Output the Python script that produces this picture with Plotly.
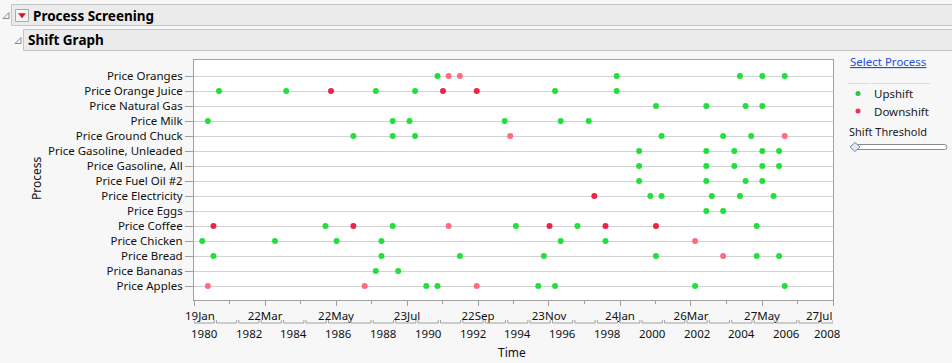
import pandas as pd
import plotly.graph_objects as go

# ---------------- data ----------------
processes = [
    "Price Oranges", "Price Orange Juice", "Price Natural Gas", "Price Milk",
    "Price Ground Chuck", "Price Gasoline, Unleaded", "Price Gasoline, All",
    "Price Fuel Oil #2", "Price Electricity", "Price Eggs", "Price Coffee",
    "Price Chicken", "Price Bread", "Price Bananas", "Price Apples",
]

upshift_process = (
    ["Price Oranges"] * 5
    + ["Price Orange Juice"] * 6
    + ["Price Natural Gas"] * 4
    + ["Price Milk"] * 6
    + ["Price Ground Chuck"] * 6
    + ["Price Gasoline, Unleaded"] * 5
    + ["Price Gasoline, All"] * 5
    + ["Price Fuel Oil #2"] * 4
    + ["Price Electricity"] * 5
    + ["Price Eggs"] * 2
    + ["Price Coffee"] * 5
    + ["Price Chicken"] * 6
    + ["Price Bread"] * 7
    + ["Price Bananas"] * 2
    + ["Price Apples"] * 6
)
upshift_month = [
    "1990-12", "1998-12", "2004-06", "2005-06", "2006-06",                       # Oranges
    "1981-03", "1984-03", "1988-03", "1989-12", "1996-03", "1998-12",            # Orange Juice
    "2000-09", "2002-12", "2004-09", "2005-06",                                  # Natural Gas
    "1980-09", "1988-12", "1989-09", "1993-12", "1996-06", "1997-09",            # Milk
    "1987-03", "1988-12", "1989-12", "2000-12", "2003-09", "2004-12",            # Ground Chuck
    "1999-12", "2002-12", "2004-03", "2005-06", "2006-03",                       # Gasoline, Unleaded
    "1999-12", "2002-12", "2004-03", "2005-06", "2006-03",                       # Gasoline, All
    "1999-12", "2002-12", "2004-09", "2005-06",                                  # Fuel Oil #2
    "2000-06", "2000-12", "2003-03", "2004-06", "2005-12",                       # Electricity
    "2002-12", "2003-09",                                                        # Eggs
    "1985-12", "1988-12", "1994-06", "1997-03", "2005-03",                       # Coffee
    "1980-06", "1983-09", "1986-06", "1988-06", "1996-06", "1998-06",            # Chicken
    "1980-12", "1988-06", "1991-12", "1995-09", "2000-09", "2005-03", "2006-03", # Bread
    "1988-03", "1989-03",                                                        # Bananas
    "1990-06", "1990-12", "1995-06", "1996-03", "2002-06", "2006-06",            # Apples
]

downshift_process = [
    "Price Oranges", "Price Oranges",
    "Price Orange Juice", "Price Orange Juice", "Price Orange Juice",
    "Price Ground Chuck", "Price Ground Chuck",
    "Price Electricity",
    "Price Coffee", "Price Coffee", "Price Coffee", "Price Coffee", "Price Coffee", "Price Coffee",
    "Price Chicken",
    "Price Bread",
    "Price Apples", "Price Apples", "Price Apples",
]
downshift_month = [
    "1991-06", "1991-12",
    "1986-03", "1991-03", "1992-09",
    "1994-03", "2006-06",
    "1997-12",
    "1980-12", "1987-03", "1991-06", "1995-12", "1998-06", "2000-09",
    "2002-06",
    "2003-09",
    "1980-09", "1987-09", "1992-09",
]
downshift_strength = [
    "weak", "weak",
    "strong", "strong", "strong",
    "weak", "weak",
    "strong",
    "strong", "strong", "weak", "strong", "strong", "strong",
    "weak",
    "weak",
    "weak", "weak", "weak",
]

axis_start, axis_end = "1980-01-19", "2008-07-27"
major_tick_dates = ["1980-01-19", "1983-03-22", "1986-05-22", "1989-07-23", "1992-09-22",
                    "1995-11-23", "1999-01-24", "2002-03-26", "2005-05-27", "2008-07-27"]
major_tick_labels = ["19Jan", "22Mar", "22May", "23Jul", "22Sep",
                     "23Nov", "24Jan", "26Mar", "27May", "27Jul"]
year_labels = ["1980", "1982", "1984", "1986", "1988", "1990", "1992", "1994",
               "1996", "1998", "2000", "2002", "2004", "2006", "2008"]

# ---------------- styling / geometry ----------------
FIG_W, FIG_H = 952, 363
L, R, T, B = 194, 833, 60, 300
FONT = "Noto Sans"
GREEN = "#22e03c"
RED = "#ee2443"
PINK = "#ff6b83"
AXIS = "#a0a0a0"
BG = "#f7f7f7"


def xp(px):
    return (px - L) / (R - L)


def yp(py):
    return (B - py) / (B - T)


fig = go.Figure()

fig.add_trace(go.Scatter(
    x=pd.to_datetime(upshift_month), y=upshift_process, mode="markers",
    marker=dict(color=GREEN, size=6, line=dict(width=0)), name="Upshift",
    showlegend=False, hoverinfo="x+y"))

down = pd.DataFrame({"p": downshift_process, "m": pd.to_datetime(downshift_month),
                     "s": downshift_strength})
for strength, col in [("strong", RED), ("weak", PINK)]:
    d = down[down.s == strength]
    fig.add_trace(go.Scatter(
        x=d.m, y=d.p, mode="markers",
        marker=dict(color=col, size=6, line=dict(width=0)), name="Downshift",
        showlegend=False, hoverinfo="x+y"))

# minor ticks halfway between major ticks
mt = pd.to_datetime(major_tick_dates)
minor_vals = [mt[i] + (mt[i + 1] - mt[i]) / 2 for i in range(len(mt) - 1)]

ticktext = [""] + major_tick_labels[1:-1] + [""]

shapes = []
annotations = []

# year brackets and year labels
start, end = pd.Timestamp(axis_start), pd.Timestamp(axis_end)
inset = pd.Timedelta(days=18)
y_h, y_v = yp(323), yp(320)
for yr in range(1980, 2009):
    s = max(pd.Timestamp(yr, 1, 1), start)
    e = min(pd.Timestamp(yr + 1, 1, 1), end)
    s2 = s + inset if s > start else s
    e2 = e - inset if e < end else e
    for (x0, x1, y0, y1) in [(s2, e2, y_h, y_h), (s2, s2, y_h, y_v), (e2, e2, y_h, y_v)]:
        shapes.append(dict(type="line", xref="x", yref="paper", x0=x0, x1=x1, y0=y0, y1=y1,
                           line=dict(color=AXIS, width=1), layer="above"))
    if str(yr) in year_labels:
        annotations.append(dict(x=s + (e - s) / 2, y=yp(333), xref="x", yref="paper",
                                text=str(yr), showarrow=False, xanchor="center",
                                yanchor="middle", font=dict(family=FONT, size=11.5, color="#111")))

# end labels of the upper tier, kept inside the axis
annotations.append(dict(x=xp(183), y=yp(315.5), xref="paper", yref="paper", text=major_tick_labels[0],
                        showarrow=False, xanchor="left", yanchor="middle",
                        font=dict(family=FONT, size=11.5, color="#111")))
annotations.append(dict(x=xp(834), y=yp(315.5), xref="paper", yref="paper", text=major_tick_labels[-1],
                        showarrow=False, xanchor="right", yanchor="middle",
                        font=dict(family=FONT, size=11.5, color="#111")))

# axis titles
annotations.append(dict(x=xp(512), y=yp(352), xref="paper", yref="paper", text="Time",
                        showarrow=False, xanchor="center", yanchor="middle",
                        font=dict(family=FONT, size=12, color="#111")))
annotations.append(dict(x=xp(36), y=yp(178), xref="paper", yref="paper", text="Process",
                        showarrow=False, xanchor="center", yanchor="middle", textangle=-90,
                        font=dict(family=FONT, size=12, color="#111")))

# header bars
shapes.append(dict(type="rect", xref="paper", yref="paper", x0=xp(11.5), x1=xp(960),
                   y0=yp(4.5), y1=yp(25.5), fillcolor="#ebebeb",
                   line=dict(color="#c4c4c4", width=1), layer="below"))
shapes.append(dict(type="rect", xref="paper", yref="paper", x0=xp(23.5), x1=xp(960),
                   y0=yp(29.5), y1=yp(50.5), fillcolor="#ebebeb",
                   line=dict(color="#c4c4c4", width=1), layer="below"))
# disclosure triangles
for (bx, by) in [(3, 18.5), (15, 43.5)]:
    shapes.append(dict(type="path", xref="paper", yref="paper",
                       path=f"M {xp(bx)},{yp(by)} L {xp(bx+6)},{yp(by)} L {xp(bx+6)},{yp(by-6)} Z",
                       line=dict(color="#8a8a8a", width=1), fillcolor="rgba(0,0,0,0)"))
# red dropdown button
shapes.append(dict(type="rect", xref="paper", yref="paper", x0=xp(15.5), x1=xp(28.5),
                   y0=yp(9.5), y1=yp(21.5), fillcolor="#f5f5f5",
                   line=dict(color="#aaaaaa", width=1)))
shapes.append(dict(type="path", xref="paper", yref="paper",
                   path=f"M {xp(18.5)},{yp(13.5)} L {xp(25.5)},{yp(13.5)} L {xp(22)},{yp(18)} Z",
                   line=dict(color="#d01010", width=0.5), fillcolor="#d81818"))
annotations.append(dict(x=xp(31), y=yp(15.5), xref="paper", yref="paper",
                        text="<b>Process Screening</b>", showarrow=False, xanchor="left",
                        yanchor="middle", font=dict(family=FONT, size=13.5, color="#000")))
annotations.append(dict(x=xp(26), y=yp(40.5), xref="paper", yref="paper",
                        text="<b>Shift Graph</b>", showarrow=False, xanchor="left",
                        yanchor="middle", font=dict(family=FONT, size=13.5, color="#000")))

# right panel
annotations.append(dict(x=xp(848), y=yp(62), xref="paper", yref="paper",
                        text="<u>Select Process</u>", showarrow=False, xanchor="left",
                        yanchor="middle", font=dict(family=FONT, size=11.5, color="#1f4fe0")))
shapes.append(dict(type="line", xref="paper", yref="paper", x0=xp(848), x1=xp(869),
                   y0=yp(83.5), y1=yp(83.5), line=dict(color="#dcdcdc", width=1)))
shapes.append(dict(type="line", xref="paper", yref="paper", x0=xp(871), x1=xp(930),
                   y0=yp(83.5), y1=yp(83.5), line=dict(color="#dcdcdc", width=1)))
for (cy, col, label) in [(93.5, "#2cc445", "Upshift"), (111, "#ea3550", "Downshift")]:
    shapes.append(dict(type="circle", xref="paper", yref="paper", x0=xp(855.5), x1=xp(860.5),
                       y0=yp(cy + 2.5), y1=yp(cy - 2.5), fillcolor=col, line=dict(width=0)))
    annotations.append(dict(x=xp(872), y=yp(cy), xref="paper", yref="paper", text=label,
                            showarrow=False, xanchor="left", yanchor="middle",
                            font=dict(family=FONT, size=11.5, color="#1a1a1a")))
annotations.append(dict(x=xp(847), y=yp(131), xref="paper", yref="paper", text="Shift Threshold",
                        showarrow=False, xanchor="left", yanchor="middle",
                        font=dict(family=FONT, size=11, color="#1a1a1a")))
# slider track (rounded)
x0, x1, y0, y1, r = 851.5, 947, 144.5, 149.5, 2.5
track = (f"M {xp(x0+r)},{yp(y0)} L {xp(x1-r)},{yp(y0)} Q {xp(x1)},{yp(y0)} {xp(x1)},{yp(y0+r)} "
         f"Q {xp(x1)},{yp(y1)} {xp(x1-r)},{yp(y1)} L {xp(x0+r)},{yp(y1)} "
         f"Q {xp(x0)},{yp(y1)} {xp(x0)},{yp(y1-r)} Q {xp(x0)},{yp(y0)} {xp(x0+r)},{yp(y0)} Z")
shapes.append(dict(type="path", xref="paper", yref="paper", path=track,
                   fillcolor="#ffffff", line=dict(color="#8a8a8a", width=1)))
shapes.append(dict(type="path", xref="paper", yref="paper",
                   path=f"M {xp(850)},{yp(147)} L {xp(855)},{yp(142.5)} L {xp(860)},{yp(147)} L {xp(855)},{yp(151.5)} Z",
                   fillcolor="#e2eaf3", line=dict(color="#7d8b99", width=1)))

fig.update_layout(
    width=FIG_W, height=FIG_H,
    margin=dict(l=L, r=FIG_W - R, t=T, b=FIG_H - B, pad=0),
    paper_bgcolor=BG, plot_bgcolor="#ffffff",
    font=dict(family=FONT, size=11.5, color="#111"),
    showlegend=False,
    shapes=shapes, annotations=annotations,
    xaxis=dict(
        type="date", range=[axis_start, axis_end],
        tickmode="array", tickvals=major_tick_dates, ticktext=ticktext,
        ticks="outside", ticklen=5, tickcolor=AXIS, tickwidth=1,
        minor=dict(tickvals=minor_vals, ticks="outside", ticklen=3, tickcolor=AXIS, showgrid=False),
        showgrid=False, zeroline=False,
        showline=True, linecolor=AXIS, linewidth=1, mirror=True,
        tickfont=dict(family=FONT, size=11.5, color="#111"),
    ),
    yaxis=dict(
        type="category", categoryorder="array", categoryarray=processes[::-1],
        range=[-0.93, 15.07],
        ticks="outside", ticklen=8, tickcolor=AXIS, tickwidth=1,
        showgrid=True, gridcolor="#d3d3d3", gridwidth=1, zeroline=False,
        showline=True, linecolor=AXIS, linewidth=1, mirror=True,
        tickfont=dict(family=FONT, size=11.5, color="#111"),
    ),
)

fig.write_html("out.html", config={"displayModeBar": False})

# remove the browser's default page margin so the figure fills the window exactly
with open("out.html", "r", encoding="utf-8") as f:
    html = f.read()
html = html.replace("<head>", "<head><style>html,body{margin:0;padding:0;overflow:hidden;background:%s;}</style>" % BG, 1)
with open("out.html", "w", encoding="utf-8") as f:
    f.write(html)
